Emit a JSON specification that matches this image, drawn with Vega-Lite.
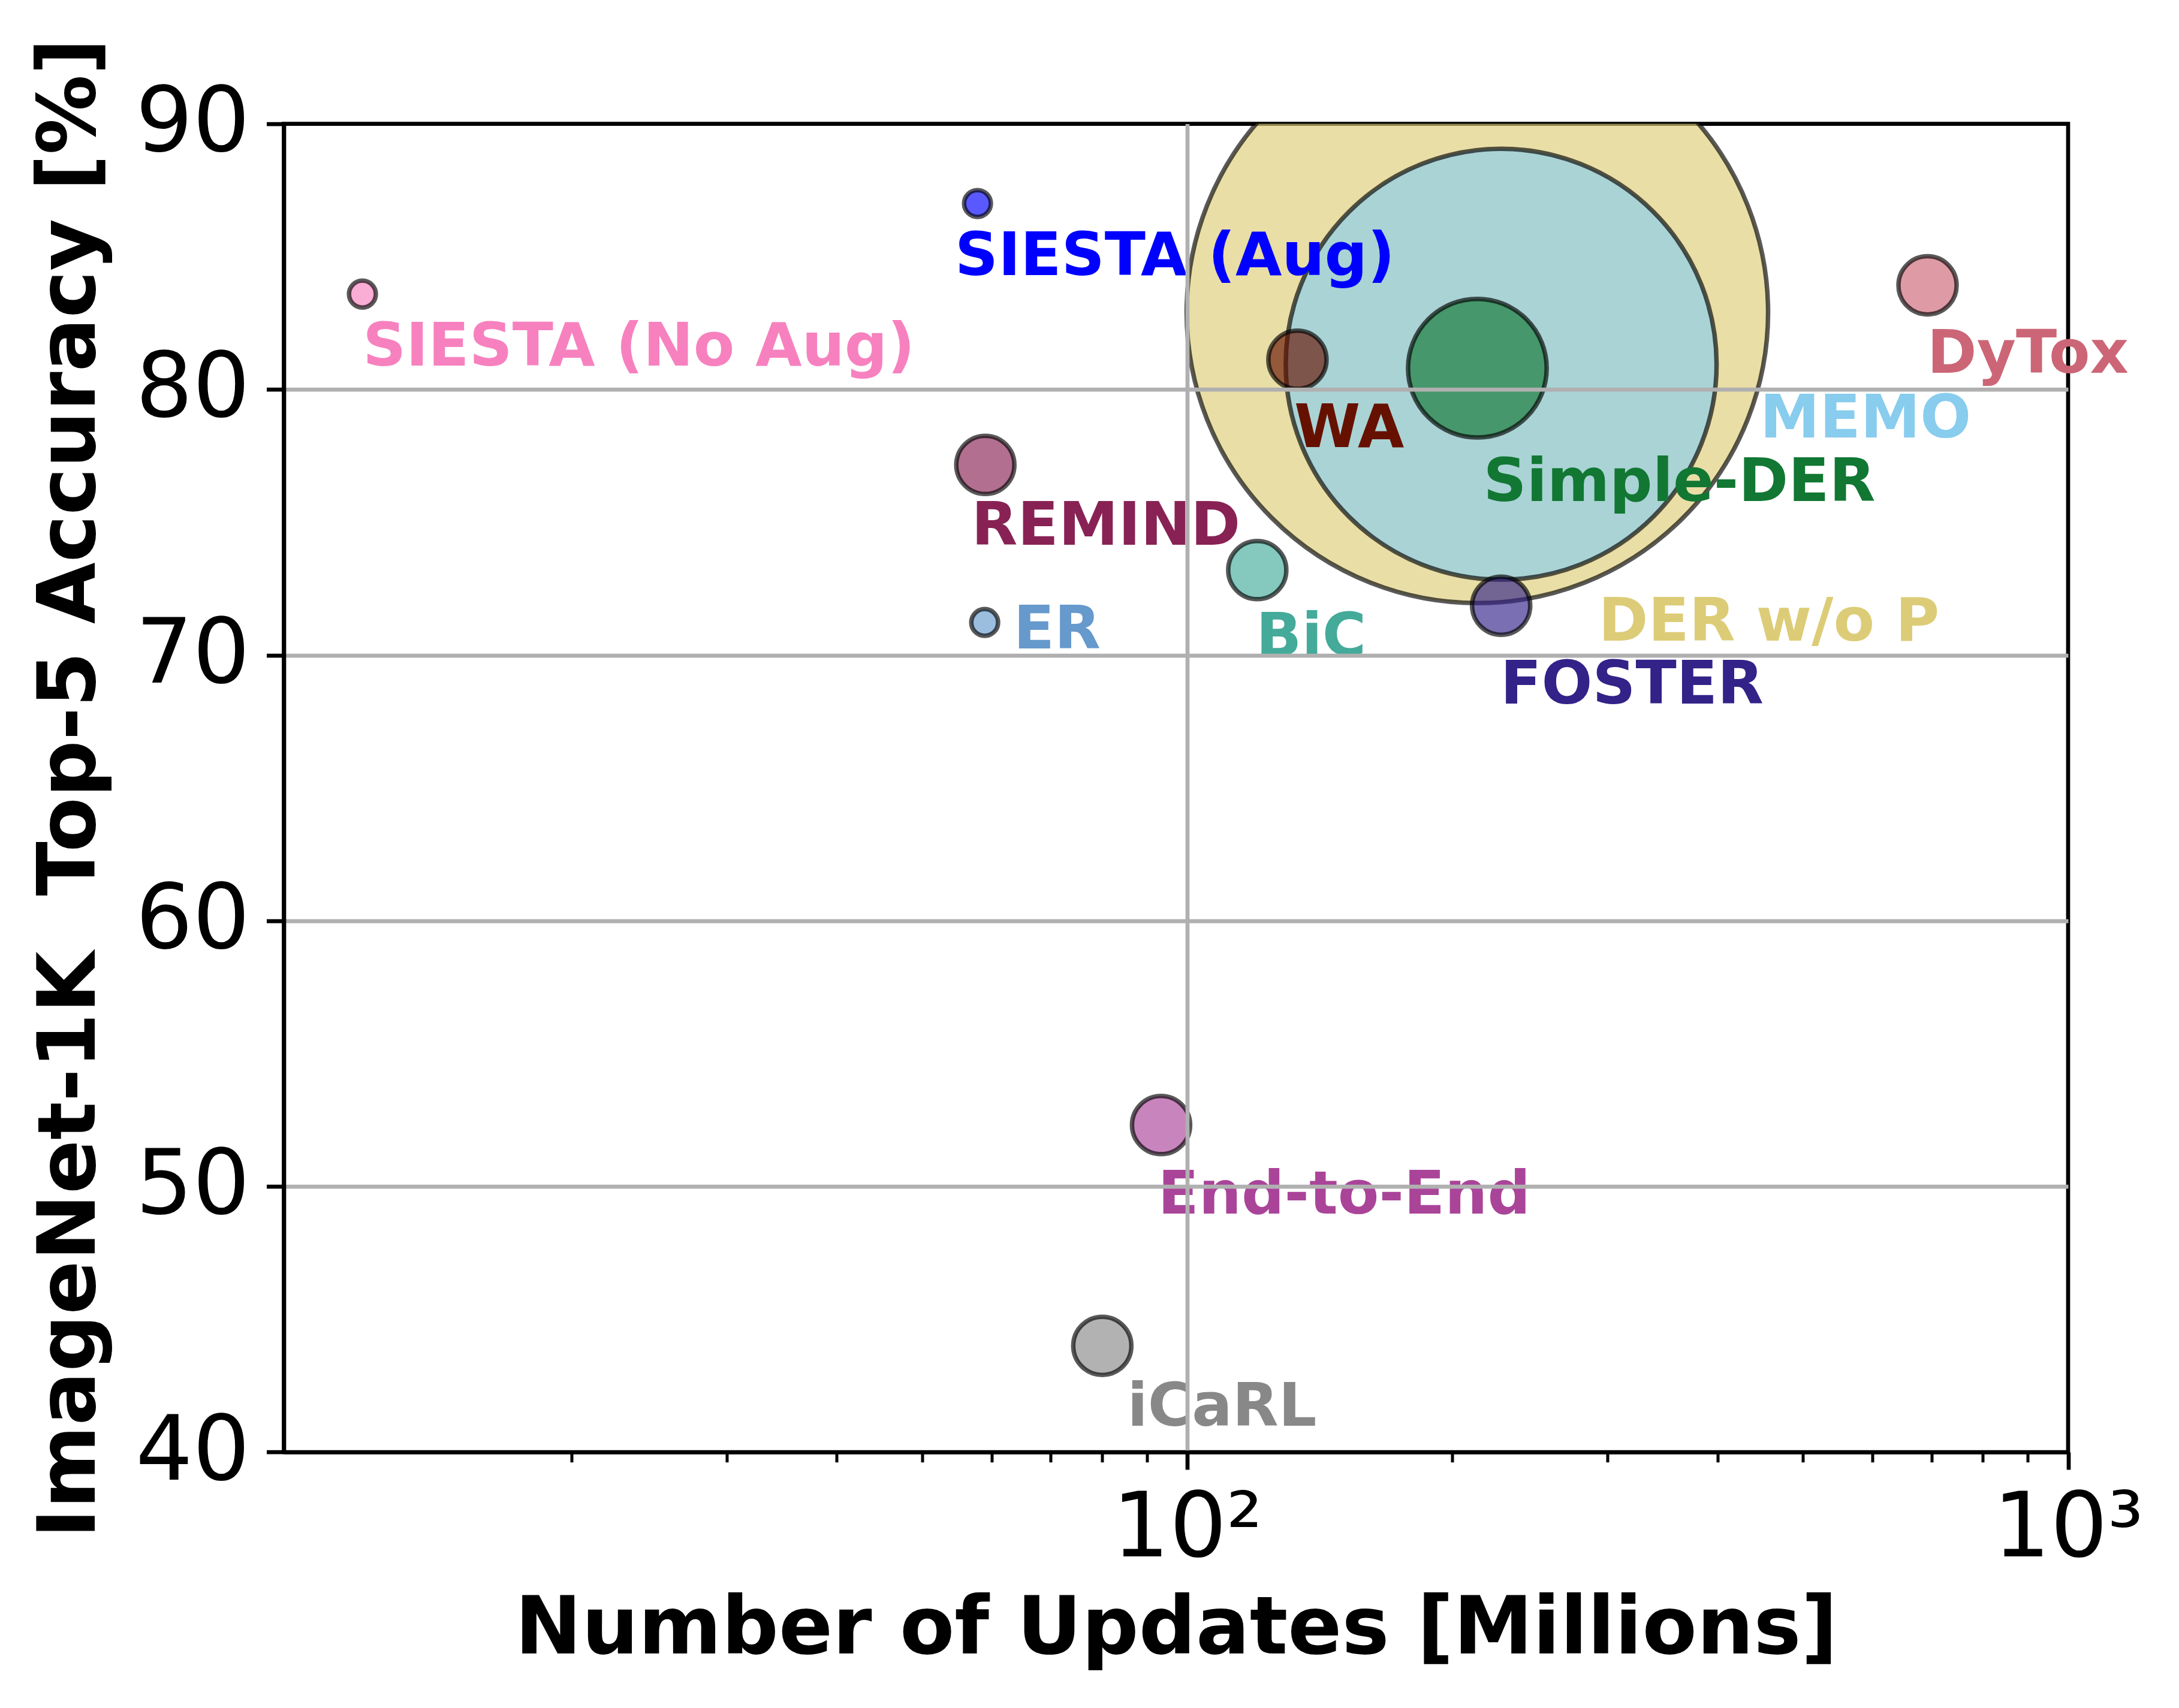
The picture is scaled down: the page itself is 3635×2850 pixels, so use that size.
{
  "$schema": "https://vega.github.io/schema/vega-lite/v6.json",
  "autosize": {"type": "none"},
  "padding": {"left": 473.5, "top": 206.6, "right": 185, "bottom": 427},
  "width": 2976.5,
  "height": 2216.4,
  "background": "white",
  "config": {
    "view": {"stroke": "black", "strokeWidth": 6.7},
    "font": "DejaVu Sans"
  },
  "data": {
    "values": [
      {"method": "DER w/o P", "updates": 213.5, "acc": 82.9, "params": 117, "lx": 293.0, "ly": 70.55},
      {"method": "MEMO", "updates": 227.2, "acc": 80.95, "params": 86.7, "lx": 446.9, "ly": 78.19},
      {"method": "Simple-DER", "updates": 213.5, "acc": 80.8, "params": 27.9, "lx": 216.9, "ly": 75.8},
      {"method": "WA", "updates": 133.4, "acc": 81.12, "params": 11.7, "lx": 132.3, "ly": 77.83},
      {"method": "FOSTER", "updates": 227.2, "acc": 71.86, "params": 11.7, "lx": 226.8, "ly": 68.17},
      {"method": "BiC", "updates": 120.1, "acc": 73.2, "params": 11.7, "lx": 119.7, "ly": 69.98},
      {"method": "REMIND", "updates": 59.0, "acc": 77.16, "params": 11.7, "lx": 56.9, "ly": 74.15},
      {"method": "ER", "updates": 58.9, "acc": 71.23, "params": 5.4, "lx": 63.5, "ly": 70.26},
      {"method": "End-to-End", "updates": 93.4, "acc": 52.31, "params": 11.7, "lx": 92.6, "ly": 48.97},
      {"method": "iCaRL", "updates": 80.1, "acc": 44.0, "params": 11.7, "lx": 85.5, "ly": 41.0},
      {"method": "DyTox", "updates": 692.5, "acc": 83.92, "params": 11.7, "lx": 691.7, "ly": 80.64},
      {"method": "SIESTA (Aug)", "updates": 57.8, "acc": 87.0, "params": 5.4, "lx": 54.5, "ly": 84.31},
      {"method": "SIESTA (No Aug)", "updates": 11.58, "acc": 83.59, "params": 5.4, "lx": 11.59, "ly": 80.91}
    ]
  },
  "layer": [
    {
      "mark": {"type": "point", "shape": "circle", "filled": true, "fillOpacity": 0.65, "stroke": "black", "strokeOpacity": 0.65, "strokeWidth": 7.5, "clip": true},
      "encoding": {
        "x": {
          "field": "updates", "type": "quantitative",
          "scale": {"type": "log", "domain": [9.43, 1000], "nice": false},
          "axis": {
            "orient": "bottom",
            "title": "Number of Updates [Millions]",
            "titleFont": "DejaVu Sans", "titleFontWeight": "bold", "titleFontSize": 133, "titleColor": "black", "titlePadding": 30,
            "values": [20, 30, 40, 50, 60, 70, 80, 90, 100, 200, 300, 400, 500, 600, 700, 800, 900, 1000],
            "labelExpr": "datum.value == 100 ? '10²' : (datum.value == 1000 ? '10³' : '')",
            "labelFont": "DejaVu Sans", "labelFontSize": 150, "labelColor": "black", "labelPadding": 25,
            "labelFlush": false, "labelOverlap": false, "labelLimit": 0,
            "tickSize": {"condition": {"test": "datum.value == 100 || datum.value == 1000", "value": 29}, "value": 16.7},
            "tickWidth": {"condition": {"test": "datum.value == 100 || datum.value == 1000", "value": 6.7}, "value": 5},
            "tickColor": "black",
            "domainColor": "black", "domainWidth": 6.7,
            "grid": true, "gridColor": "#b0b0b0", "gridWidth": 6.7,
            "gridOpacity": {"condition": {"test": "datum.value == 100", "value": 1}, "value": 0},
            "zindex": 1
          }
        },
        "y": {
          "field": "acc", "type": "quantitative",
          "scale": {"domain": [40, 90], "nice": false, "zero": false},
          "axis": {
            "title": "ImageNet-1K\u00a0 Top-5 Accuracy [%]",
            "titleFont": "DejaVu Sans", "titleFontWeight": "bold", "titleFontSize": 133, "titleColor": "black", "titlePadding": 88,
            "values": [40, 50, 60, 70, 80, 90],
            "labelFont": "DejaVu Sans", "labelFontSize": 150, "labelColor": "black", "labelPadding": 28,
            "labelFlush": false, "labelOverlap": false, "labelLimit": 0,
            "tickSize": 29, "tickWidth": 6.7, "tickColor": "black",
            "domainColor": "black", "domainWidth": 6.7,
            "grid": true, "gridColor": "#b0b0b0", "gridWidth": 6.7,
            "gridOpacity": {"condition": {"test": "datum.value == 40 || datum.value == 90", "value": 0}, "value": 1},
            "zindex": 1
          }
        },
        "size": {
          "field": "params", "type": "quantitative",
          "scale": {"type": "pow", "exponent": 2, "domain": [0, 117], "range": [0, 940900]},
          "legend": null
        },
        "color": {
          "field": "method", "type": "nominal",
          "scale": {
            "domain": ["DER w/o P", "MEMO", "Simple-DER", "WA", "FOSTER", "BiC", "REMIND", "ER", "End-to-End", "iCaRL", "DyTox", "SIESTA (Aug)", "SIESTA (No Aug)"],
            "range": ["#DDCC77", "#88CCEE", "#117733", "#661100", "#332288", "#44AA99", "#882255", "#6699CC", "#AA4499", "#888888", "#CC6677", "#0000FF", "#F781BF"]
          },
          "legend": null
        }
      }
    },
    {
      "mark": {"type": "text", "align": "left", "baseline": "alphabetic", "font": "DejaVu Sans", "fontWeight": "bold", "fontSize": 100},
      "encoding": {
        "x": {"field": "lx", "type": "quantitative"},
        "y": {"field": "ly", "type": "quantitative"},
        "text": {"field": "method"},
        "color": {"field": "method", "type": "nominal", "legend": null}
      }
    }
  ]
}
